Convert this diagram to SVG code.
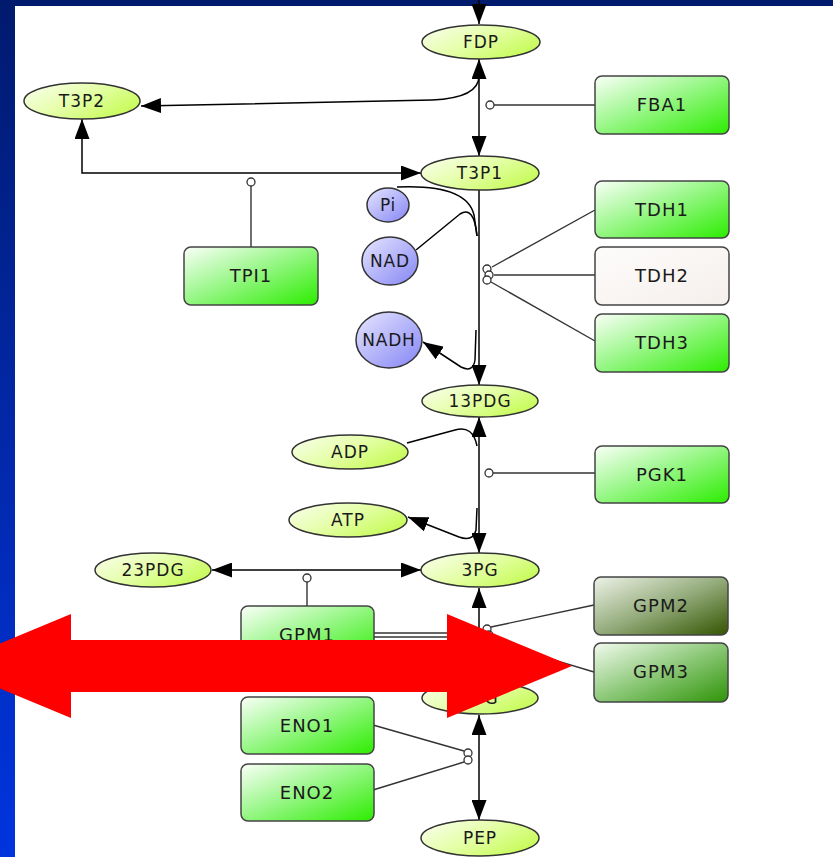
<svg xmlns="http://www.w3.org/2000/svg" width="833" height="857" viewBox="0 0 833 857">
  <defs>
    <linearGradient id="gBand" x1="0" y1="0" x2="0" y2="1">
      <stop offset="0" stop-color="#001a6e"/>
      <stop offset="0.5" stop-color="#0228a8"/>
      <stop offset="1" stop-color="#0034de"/>
    </linearGradient>
    <linearGradient id="gMet" x1="0" y1="0" x2="1" y2="0.6">
      <stop offset="0" stop-color="#fbfff2"/>
      <stop offset="0.55" stop-color="#e4ffa6"/>
      <stop offset="1" stop-color="#c8fb5c"/>
    </linearGradient>
    <linearGradient id="gSmall" x1="0" y1="0" x2="1" y2="1">
      <stop offset="0" stop-color="#e6e6ff"/>
      <stop offset="1" stop-color="#8585f5"/>
    </linearGradient>
    <linearGradient id="gEnz" x1="0" y1="0" x2="1" y2="1">
      <stop offset="0" stop-color="#fafff8"/>
      <stop offset="0.45" stop-color="#9cf78c"/>
      <stop offset="1" stop-color="#2ced00"/>
    </linearGradient>
    <linearGradient id="gPale" x1="0" y1="0" x2="1" y2="1">
      <stop offset="0" stop-color="#fdfcfb"/>
      <stop offset="1" stop-color="#f5efec"/>
    </linearGradient>
    <linearGradient id="gDark" x1="0" y1="0" x2="1" y2="1">
      <stop offset="0" stop-color="#eef3e8"/>
      <stop offset="0.5" stop-color="#94ac7c"/>
      <stop offset="1" stop-color="#345400"/>
    </linearGradient>
    <linearGradient id="gMid" x1="0" y1="0" x2="1" y2="1">
      <stop offset="0" stop-color="#f2fbee"/>
      <stop offset="0.5" stop-color="#8cc878"/>
      <stop offset="1" stop-color="#2f9408"/>
    </linearGradient>
    <marker id="ah" markerUnits="userSpaceOnUse" markerWidth="20" markerHeight="15" refX="20" refY="7.5" orient="auto-start-reverse">
      <path d="M0,0 L20,7.5 L0,15 z" fill="#000"/>
    </marker>
    <style>
      .met { fill: url(#gMet); stroke: #333; stroke-width: 1.5; }
      .sm { fill: url(#gSmall); stroke: #333; stroke-width: 1.5; }
      .enz { stroke: #444; stroke-width: 1.5; }
      .lbl { font-family: "DejaVu Sans", Verdana, sans-serif; font-size: 17px; fill: #1a1a1a; text-anchor: middle; letter-spacing: 1px; }
      .elbl { font-size: 18px; }
      .slbl { font-size: 17px; letter-spacing: 0.8px; }
      .rx { fill: none; stroke: #000; stroke-width: 1.5; }
      .mod { fill: none; stroke: #333; stroke-width: 1.4; }
      .dot { fill: #fff; stroke: #333; stroke-width: 1.3; }
    </style>
  </defs>

  <!-- slide background -->
  <rect x="0" y="0" width="833" height="857" fill="#fff"/>
  <rect x="0" y="0" width="833" height="6" fill="#001a6e"/>
  <rect x="0" y="0" width="15" height="857" fill="url(#gBand)"/>

  <!-- reaction and modifier edges -->
  <g id="connectors">
    <line class="rx" x1="479" y1="0" x2="479" y2="24" marker-end="url(#ah)"/>
    <line class="rx" x1="479" y1="59" x2="479" y2="156" marker-start="url(#ah)" marker-end="url(#ah)"/>
    <path class="rx" d="M479,76 Q479,98 432,100 L141,106" marker-end="url(#ah)"/>
    <path class="rx" d="M82,119 L82,173 L421,173" marker-start="url(#ah)" marker-end="url(#ah)"/>
    <line class="mod" x1="251" y1="186" x2="251" y2="247"/>
    <circle class="dot" cx="251" cy="182" r="4"/>
    <line class="mod" x1="494" y1="105" x2="595" y2="105"/>
    <circle class="dot" cx="490" cy="105" r="4"/>

    <line class="rx" x1="479" y1="190" x2="479" y2="385" marker-end="url(#ah)"/>
    <path class="rx" d="M397,187 C440,185 469,193 474,215 L477,236"/>
    <path class="rx" d="M416,250 L460,214 Q474,205 477,236"/>
    <path class="rx" d="M476,330 L475,360 Q473,373 461,367 L423,342" marker-end="url(#ah)"/>
    <line class="mod" x1="492" y1="267" x2="595" y2="210"/>
    <line class="mod" x1="494" y1="275" x2="595" y2="275"/>
    <line class="mod" x1="491" y1="282" x2="595" y2="341"/>
    <circle class="dot" cx="487" cy="269" r="4"/>
    <circle class="dot" cx="489" cy="275" r="4"/>
    <circle class="dot" cx="487" cy="280" r="4"/>

    <line class="rx" x1="479" y1="417" x2="479" y2="553" marker-start="url(#ah)" marker-end="url(#ah)"/>
    <path class="rx" d="M407,443 L455,430 Q473,425 477,446"/>
    <path class="rx" d="M477,508 L476,530 Q473,542 459,537 L408,517" marker-end="url(#ah)"/>
    <line class="mod" x1="493" y1="473" x2="595" y2="473"/>
    <circle class="dot" cx="489" cy="473" r="4"/>

    <line class="rx" x1="212" y1="570" x2="421" y2="570" marker-start="url(#ah)" marker-end="url(#ah)"/>
    <line class="mod" x1="307" y1="582" x2="307" y2="606"/>
    <circle class="dot" cx="307" cy="578" r="4"/>

    <line class="rx" x1="479" y1="588" x2="479" y2="681" marker-start="url(#ah)" marker-end="url(#ah)"/>
    <line class="mod" x1="374" y1="633" x2="483" y2="633"/>
    <line class="mod" x1="374" y1="637" x2="483" y2="637"/>
    <line class="mod" x1="491" y1="627" x2="594" y2="605"/>
    <line class="mod" x1="491" y1="641" x2="594" y2="672"/>
    <circle class="dot" cx="487" cy="629" r="4"/>
    <circle class="dot" cx="489" cy="635" r="4"/>
    <circle class="dot" cx="487" cy="641" r="4"/>

    <line class="rx" x1="479" y1="715" x2="479" y2="820" marker-start="url(#ah)" marker-end="url(#ah)"/>
    <line class="mod" x1="373" y1="725" x2="464" y2="751"/>
    <line class="mod" x1="373" y1="790" x2="464" y2="762"/>
    <circle class="dot" cx="468" cy="753" r="4"/>
    <circle class="dot" cx="468" cy="760" r="4"/>
  </g>

  <!-- metabolites -->
  <g id="FDP"><ellipse class="met" cx="481" cy="42" rx="59" ry="17"/><text class="lbl" x="481" y="48">FDP</text></g>
  <g id="T3P2"><ellipse class="met" cx="82" cy="101" rx="58" ry="18"/><text class="lbl" x="82" y="107">T3P2</text></g>
  <g id="T3P1"><ellipse class="met" cx="480" cy="173" rx="59" ry="17"/><text class="lbl" x="480" y="179">T3P1</text></g>
  <g id="PDG13"><ellipse class="met" cx="480" cy="401" rx="58" ry="16"/><text class="lbl" x="480" y="407">13PDG</text></g>
  <g id="ADP"><ellipse class="met" cx="350" cy="452" rx="58" ry="17"/><text class="lbl" x="350" y="458">ADP</text></g>
  <g id="ATP"><ellipse class="met" cx="348" cy="520" rx="59" ry="17"/><text class="lbl" x="348" y="526">ATP</text></g>
  <g id="PDG23"><ellipse class="met" cx="153" cy="570" rx="58" ry="17"/><text class="lbl" x="153" y="576">23PDG</text></g>
  <g id="PG3"><ellipse class="met" cx="480" cy="570" rx="59" ry="17"/><text class="lbl" x="480" y="576">3PG</text></g>
  <g id="PG2"><ellipse class="met" cx="480" cy="698" rx="58" ry="16"/><text class="lbl" x="480" y="704">2PG</text></g>
  <g id="PEP"><ellipse class="met" cx="480" cy="838" rx="59" ry="18"/><text class="lbl" x="480" y="844">PEP</text></g>

  <!-- cofactors -->
  <g id="Pi"><ellipse class="sm" cx="388" cy="205" rx="21" ry="17"/><text class="lbl slbl" x="388" y="211">Pi</text></g>
  <g id="NAD"><ellipse class="sm" cx="390" cy="261" rx="28" ry="24"/><text class="lbl slbl" x="390" y="267">NAD</text></g>
  <g id="NADH"><ellipse class="sm" cx="389" cy="340" rx="33" ry="28"/><text class="lbl slbl" x="389" y="346">NADH</text></g>

  <!-- enzymes -->
  <g id="FBA1"><rect class="enz" x="595" y="76" width="134" height="58" rx="7" fill="url(#gEnz)"/><text class="lbl elbl" x="662" y="111">FBA1</text></g>
  <g id="TPI1"><rect class="enz" x="184" y="247" width="134" height="58" rx="7" fill="url(#gEnz)"/><text class="lbl elbl" x="251" y="282">TPI1</text></g>
  <g id="TDH1"><rect class="enz" x="595" y="181" width="134" height="57" rx="7" fill="url(#gEnz)"/><text class="lbl elbl" x="662" y="216">TDH1</text></g>
  <g id="TDH2"><rect class="enz" x="595" y="247" width="134" height="58" rx="7" fill="url(#gPale)"/><text class="lbl elbl" x="662" y="282">TDH2</text></g>
  <g id="TDH3"><rect class="enz" x="595" y="314" width="134" height="58" rx="7" fill="url(#gEnz)"/><text class="lbl elbl" x="662" y="349">TDH3</text></g>
  <g id="PGK1"><rect class="enz" x="595" y="446" width="134" height="57" rx="7" fill="url(#gEnz)"/><text class="lbl elbl" x="662" y="481">PGK1</text></g>
  <g id="GPM1"><rect class="enz" x="241" y="606" width="133" height="58" rx="7" fill="url(#gEnz)"/><text class="lbl elbl" x="307" y="641">GPM1</text></g>
  <g id="GPM2"><rect class="enz" x="594" y="577" width="134" height="58" rx="7" fill="url(#gDark)"/><text class="lbl elbl" x="661" y="612">GPM2</text></g>
  <g id="GPM3"><rect class="enz" x="594" y="643" width="134" height="59" rx="7" fill="url(#gMid)"/><text class="lbl elbl" x="661" y="678">GPM3</text></g>
  <g id="ENO1"><rect class="enz" x="241" y="697" width="133" height="57" rx="7" fill="url(#gEnz)"/><text class="lbl elbl" x="307" y="732">ENO1</text></g>
  <g id="ENO2"><rect class="enz" x="241" y="764" width="133" height="57" rx="7" fill="url(#gEnz)"/><text class="lbl elbl" x="307" y="799">ENO2</text></g>

  <!-- red double-headed pointer laid over the diagram -->
  <polygon id="pointer" fill="#ff0000" points="-54,666 71,614 71,640 447,640 447,614 572,666 447,718 447,692 71,692 71,718"/>
</svg>
